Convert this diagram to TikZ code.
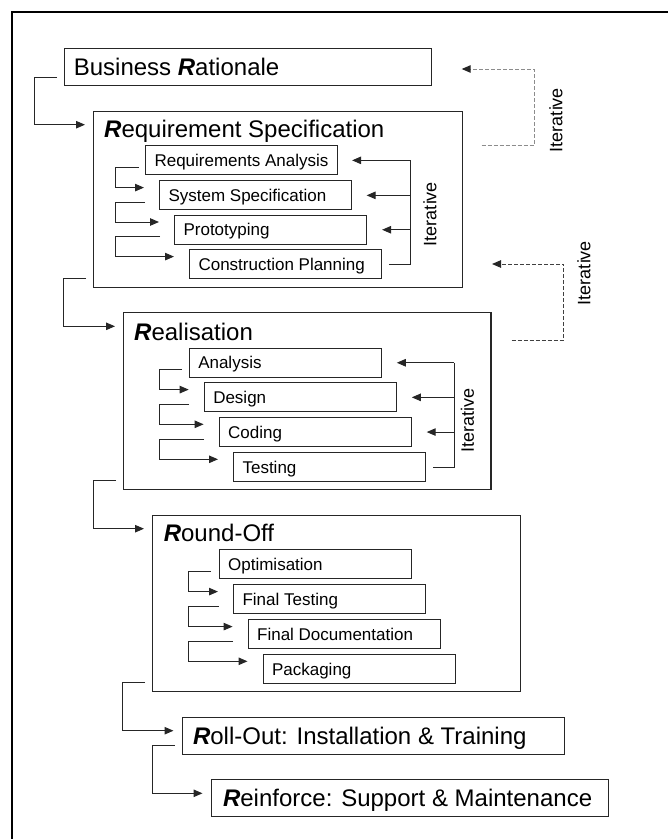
\documentclass[tikz,border=0pt]{standalone}
\usepackage{fontspec}
\setmainfont{Liberation Sans}
\usetikzlibrary{arrows.meta,calc}
\newcommand{\RR}{\textbf{\textit{R}}}
\newcommand{\fitl}[2]{\makebox[#1][l]{#2}}
\newcommand{\innerlink}[4]{%
  \coordinate (tmpS) at ($(#1.south west)+(#3,-8)$);
  \draw[arr] (tmpS) -- (tmpS -| #4) |- ($(#2.north west)+(-15,7.3)$);
}
\begin{document}
\begin{tikzpicture}[x=1pt,y=-1pt,
  bigfont/.style={font=\fontsize{24}{28}\selectfont},
  smallfont/.style={font=\fontsize{17}{20}\selectfont},
  box/.style={draw=black!85, line width=1.1pt, anchor=north west, inner ysep=0pt},
  bigbox/.style={box, bigfont, minimum height=37.5pt, text height=17.2pt, text depth=0pt},
  subbox/.style={box, smallfont, inner xsep=9pt, minimum height=29pt, text height=12.2pt, text depth=0pt},
  container/.style={box, inner sep=0pt},
  title/.style={bigfont, anchor=base west, inner sep=0pt},
  conn/.style={draw=black!85, line width=1pt},
  arr/.style={conn, -{Triangle[length=9pt,width=7.5pt]}},
  iter/.style={font=\fontsize{18}{20}\selectfont, rotate=90, inner sep=0pt, text height=12.9pt, text depth=0pt},
  dashconn/.style={line width=1pt, dash pattern=on 4pt off 2pt, -{Triangle[length=9pt,width=7.5pt,color=black!85]}},
]
\useasboundingbox (0,0) rectangle (668,839);
% outer frame (only top and left edges visible)
\draw[line width=2pt] (12.3,839) -- (12.3,12.3) -- (668,12.3);

% main boxes
\node[bigbox, inner xsep=9.3pt] (br) at (64,47.7) {\fitl{348.4pt}{Business \RR ationale}};
\node[container, minimum width=369pt, minimum height=176pt] (rs) at (93,110.7) {};
\node[title] (rst) at ($(rs.north west)+(11,27)$) {\RR equirement Specification};
\node[container, minimum width=367.4pt, minimum height=176.7pt] (real) at (123,312.3) {};
\node[title] (realt) at ($(real.north west)+(11,27.7)$) {\RR ealisation};
\node[container, minimum width=367.8pt, minimum height=176.3pt] (ro) at (152,514.7) {};
\node[title] (rot) at ($(ro.north west)+(11.6,27)$) {\RR ound-Off};
\node[bigbox, inner xsep=11pt, minimum height=37pt] (roll) at (181.5,716.7) {\fitl{360.5pt}{\RR oll-Out: Installation \& Training}};
\node[bigbox, inner xsep=12pt, minimum height=37pt] (reinf) at (210.5,779.3) {\fitl{373.5pt}{\RR einforce: Support \& Maintenance}};

% sub boxes: Requirement Specification
\node[subbox] (ra) at (145,145.3) {\fitl{174pt}{Requirements Analysis}};
\node[subbox] (ss) at (159,180.3) {\fitl{174pt}{System Specification}};
\node[subbox] (pr) at (174,214.7) {\fitl{174pt}{Prototyping}};
\node[subbox] (cp) at (189,249.3) {\fitl{174pt}{Construction Planning}};
% sub boxes: Realisation
\node[subbox] (an) at (188.7,347.7) {\fitl{174pt}{Analysis}};
\node[subbox] (de) at (203.7,382.3) {\fitl{174pt}{Design}};
\node[subbox] (co) at (218.6,417) {\fitl{174pt}{Coding}};
\node[subbox] (te) at (233,452) {\fitl{174pt}{Testing}};
% sub boxes: Round-Off
\node[subbox] (op) at (218.6,549.3) {\fitl{174pt}{Optimisation}};
\node[subbox] (ft) at (233,584.3) {\fitl{174pt}{Final Testing}};
\node[subbox] (fd) at (247.6,619.3) {\fitl{174pt}{Final Documentation}};
\node[subbox] (pk) at (262.5,654) {\fitl{174pt}{Packaging}};

% main chain connectors
\foreach \a/\b in {br/rs, rs/real, real/ro, ro/roll, roll/reinf}{
  \draw[arr] ($(\a.south west)+(-7,-9.3)$) -- ++(-22.5,0) |- ($(\b.north west)+(-8,14)$);
}

% inner chains
\coordinate (rscol) at ($(ra.west)+(-29.5,0)$);
\innerlink{ra}{ss}{-6.5}{rscol}
\innerlink{ss}{pr}{-14}{rscol}
\innerlink{pr}{cp}{-14}{rscol}
\coordinate (rlcol) at ($(an.west)+(-29.3,0)$);
\innerlink{an}{de}{-6.7}{rlcol}
\innerlink{de}{co}{-14.7}{rlcol}
\innerlink{co}{te}{-14.6}{rlcol}
\coordinate (rocol) at ($(op.west)+(-29.8,0)$);
\innerlink{op}{ft}{-7.6}{rocol}
\innerlink{ft}{fd}{-14.4}{rocol}
\innerlink{fd}{pk}{-14.6}{rocol}

% iterative brackets inside Requirement Specification
\coordinate (rsr) at ($(cp.east)+(28,0)$);
\draw[conn] ($(cp.east)+(7,0)$) -| (rsr |- ra.east);
\draw[arr] (rsr |- ra.east) -- ($(ra.east)+(14,0)$);
\draw[arr] (rsr |- ss.east) -- ($(ss.east)+(14.5,0)$);
\draw[arr] (rsr |- pr.east) -- ($(pr.east)+(15,0)$);
\node[iter] (it1) at (430,214) {Iterative};

% iterative brackets inside Realisation
\coordinate (rlr) at ($(te.east)+(28,0)$);
\draw[conn] ($(te.east)+(7,0)$) -| (rlr |- an.east);
\draw[arr] (rlr |- an.east) -- ($(an.east)+(15,0)$);
\draw[arr] (rlr |- de.east) -- ($(de.east)+(15,0)$);
\draw[arr] (rlr |- co.east) -- ($(co.east)+(15,0)$);
\node[iter] (it2) at (467.4,420.8) {Iterative};

% outer dashed iterative loops
\coordinate (d1s) at (481.7,145.3);
\coordinate (d1c) at (534,100);
\coordinate (d1e) at (461.7,69);
\draw[dashconn, draw=black!45] (d1s) -- (d1s -| d1c) |- (d1e);
\node[iter] (it3) at (556,120) {Iterative};

\coordinate (d2s) at (511.5,340);
\coordinate (d2c) at (563.5,300);
\coordinate (d2e) at (492,264);
\draw[dashconn, draw=black!75] (d2s) -- (d2s -| d2c) |- (d2e);
\node[iter] (it4) at (584,273) {Iterative};
\end{tikzpicture}
\end{document}
